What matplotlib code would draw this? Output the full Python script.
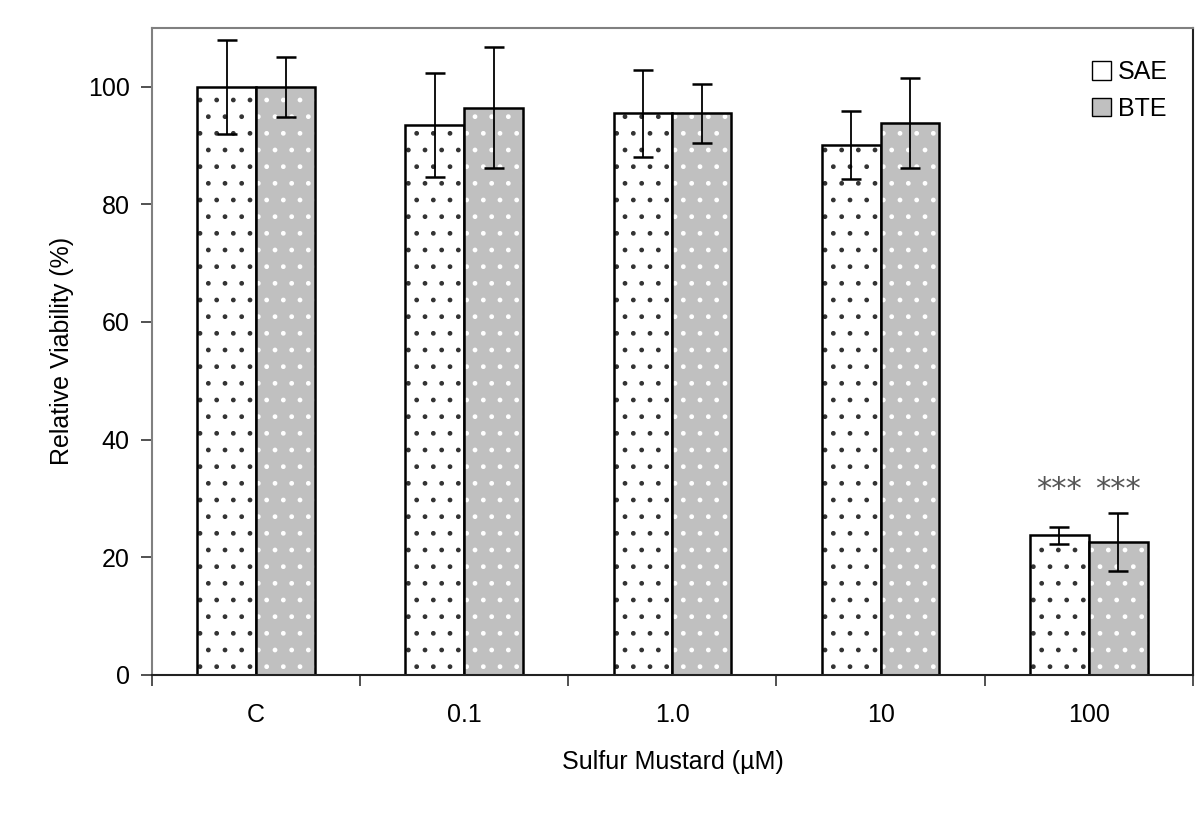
import numpy as np
import matplotlib
matplotlib.use("Agg")
import matplotlib.pyplot as plt
from matplotlib.patches import Patch

plt.rcParams['font.family'] = ['Liberation Sans', 'DejaVu Sans']
plt.rcParams['hatch.linewidth'] = 1.0

categories = ["C", "0.1", "1.0", "10", "100"]
sae_vals = [100, 93.5, 95.5, 90.1, 23.7]
sae_err = [8.0, 8.9, 7.4, 5.8, 1.4]
bte_vals = [100, 96.4, 95.5, 93.8, 22.6]
bte_err = [5.1, 10.3, 5.0, 7.7, 4.9]
signif = ["", "", "", "", "***"]

x = np.arange(len(categories))
w = 0.283

fig = plt.figure(figsize=(12, 8.21), dpi=100)
ax = fig.add_axes([0.1267, 0.178, 0.8673, 0.788])

# SAE: white with black dots
ax.bar(x - w / 2, sae_vals, w, color="white", edgecolor="#333333", hatch=".", linewidth=0)
ax.bar(x - w / 2, sae_vals, w, fill=False, edgecolor="black", linewidth=1.8)
# BTE: gray with white dots
ax.bar(x + w / 2, bte_vals, w, color="#c0c0c0", edgecolor="white", hatch=".", linewidth=0)
ax.bar(x + w / 2, bte_vals, w, fill=False, edgecolor="black", linewidth=1.8)

ax.errorbar(x - w / 2, sae_vals, yerr=sae_err, fmt="none", ecolor="black",
            elinewidth=1.3, capsize=7, capthick=1.8)
ax.errorbar(x + w / 2, bte_vals, yerr=bte_err, fmt="none", ecolor="black",
            elinewidth=1.3, capsize=7, capthick=1.8)

for i, s in enumerate(signif):
    if s:
        for xx in (x[i] - w / 2, x[i] + w / 2):
            ax.text(xx, 31.5, s, ha="center", va="center", fontsize=22,
                    color="#555555", family=["DejaVu Sans"])

ax.set_xlim(-0.5, len(categories) - 0.5)
ax.set_ylim(0, 110)
ax.set_yticks([0, 20, 40, 60, 80, 100])
ax.set_xticks(x)
ax.set_xticklabels(categories)
ax.set_xticks(np.arange(-0.5, len(categories), 1), minor=True)
ax.tick_params(axis="x", which="major", length=0, labelsize=18, pad=20)
ax.tick_params(axis="x", which="minor", length=8, width=1.2, color="#333333")
ax.tick_params(axis="y", length=8, width=1.2, labelsize=18, color="#333333", pad=8)

ax.spines["left"].set_color("#808080")
ax.spines["top"].set_color("#808080")
ax.spines["right"].set_color("#222222")
ax.spines["bottom"].set_color("#222222")
for sp in ax.spines.values():
    sp.set_linewidth(1.5)

ax.set_xlabel("Sulfur Mustard (µM)", fontsize=18, labelpad=17)
ax.set_ylabel("Relative Viability (%)", fontsize=18, labelpad=10)

handles = [Patch(facecolor="white", edgecolor="black", label="SAE"),
           Patch(facecolor="#c0c0c0", edgecolor="black", label="BTE")]
ax.legend(handles=handles, loc="upper right", frameon=False, fontsize=18,
          handlelength=0.75, handleheight=0.75, handletextpad=0.3, labelspacing=0.5,
          bbox_to_anchor=(0.998, 0.985))

fig.savefig("out.png", dpi=100)
